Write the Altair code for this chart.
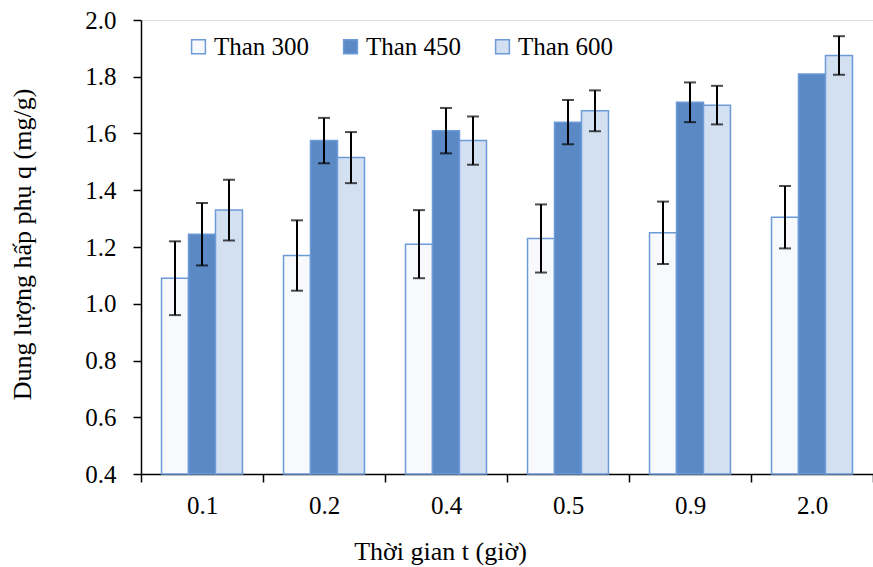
import altair as alt
import pandas as pd

times = ["0.1", "0.2", "0.4", "0.5", "0.9", "2.0"]
series = ["Than 300", "Than 450", "Than 600"]
than300 = [1.09, 1.17, 1.21, 1.23, 1.25, 1.305]
than450 = [1.245, 1.575, 1.61, 1.64, 1.71, 1.81]
than600 = [1.33, 1.515, 1.575, 1.68, 1.70, 1.875]
err300 = [0.13, 0.124, 0.12, 0.12, 0.11, 0.11]
err450 = [0.11, 0.08, 0.08, 0.078, 0.07, None]
err600 = [0.107, 0.09, 0.085, 0.072, 0.068, 0.068]

rows = []
for s, vals, errs in zip(series, [than300, than450, than600], [err300, err450, err600]):
    for t, v, e in zip(times, vals, errs):
        rows.append({"t": t, "s": s, "v": v, "e": e})
df = pd.DataFrame(rows)

FONT = "Liberation Serif"
STROKE = "#6d9bd8"
FS = 25

x = alt.X("t:N", sort=times,
          scale=alt.Scale(paddingInner=0, paddingOuter=0),
          axis=alt.Axis(title="Thời gian t (giờ)", labelAngle=0, tickBand="extent",
                        domainColor="black", tickColor="black", tickSize=8,
                        domainWidth=1.5, tickWidth=1.5,
                        labelFont=FONT, labelFontSize=FS, labelColor="black",
                        labelPadding=11, titleFont=FONT, titleFontSize=26,
                        titleFontWeight="normal", titleColor="black",
                        titleX=299, titleY=77, titleBaseline="middle"))
xo = alt.XOffset("s:N", sort=series,
                 scale=alt.Scale(domain=series, paddingInner=0, paddingOuter=0.76))
y = alt.Y("v:Q", scale=alt.Scale(domain=[0.4, 2.0], zero=False, nice=False),
          axis=alt.Axis(title="Dung lượng hấp phụ q (mg/g)",
                        values=[0.4, 0.6, 0.8, 1.0, 1.2, 1.4, 1.6, 1.8, 2.0],
                        format=".1f", grid=False, domainColor="black", tickColor="black",
                        tickSize=8, domainWidth=1.5, tickWidth=1.5,
                        labelFont=FONT, labelFontSize=FS, labelColor="black", labelPadding=17,
                        titleFont=FONT, titleFontSize=26, titleFontWeight="normal",
                        titleColor="black", titleX=-119, titleY=224, titleBaseline="middle"))

bars = alt.Chart(df).mark_bar(stroke=STROKE, strokeWidth=1.5).encode(
    x=x, xOffset=xo, y=y, y2=alt.datum(0.4),
    fill=alt.Fill("s:N", sort=series,
                  scale=alt.Scale(domain=series, range=["#f7f9fd", "#5a89c6", "#d3e0f2"]),
                  legend=alt.Legend(title=None, orient="none", direction="horizontal",
                                    legendX=45, legendY=14, symbolType="square", symbolSize=190,
                                    symbolStrokeColor=STROKE, symbolStrokeWidth=1.5,
                                    labelFont=FONT, labelFontSize=FS, labelColor="black",
                                    labelOffset=3, columnPadding=28)),
)

base = alt.Chart(df).transform_filter("isValid(datum.e)").transform_calculate(
    lo="datum.v - datum.e", hi="datum.v + datum.e")

rule = base.mark_rule(color="black", strokeWidth=2).encode(
    x=alt.X("t:N", sort=times), xOffset=xo, y=alt.Y("lo:Q"), y2="hi:Q")
cap_lo = base.mark_tick(color="black", thickness=2, size=12).encode(
    x=alt.X("t:N", sort=times), xOffset=xo, y=alt.Y("lo:Q"))
cap_hi = base.mark_tick(color="black", thickness=2, size=12).encode(
    x=alt.X("t:N", sort=times), xOffset=xo, y=alt.Y("hi:Q"))

chart = alt.layer(bars, rule, cap_lo, cap_hi).properties(
    width=732, height=454,
    autosize=alt.AutoSizeParams(type="none"),
    padding={"left": 141, "top": 20, "right": 0, "bottom": 93},
).configure_view(stroke=None).configure(background="white", font=FONT)

chart.save("out.html", embed_options={"renderer": "svg", "actions": False})
